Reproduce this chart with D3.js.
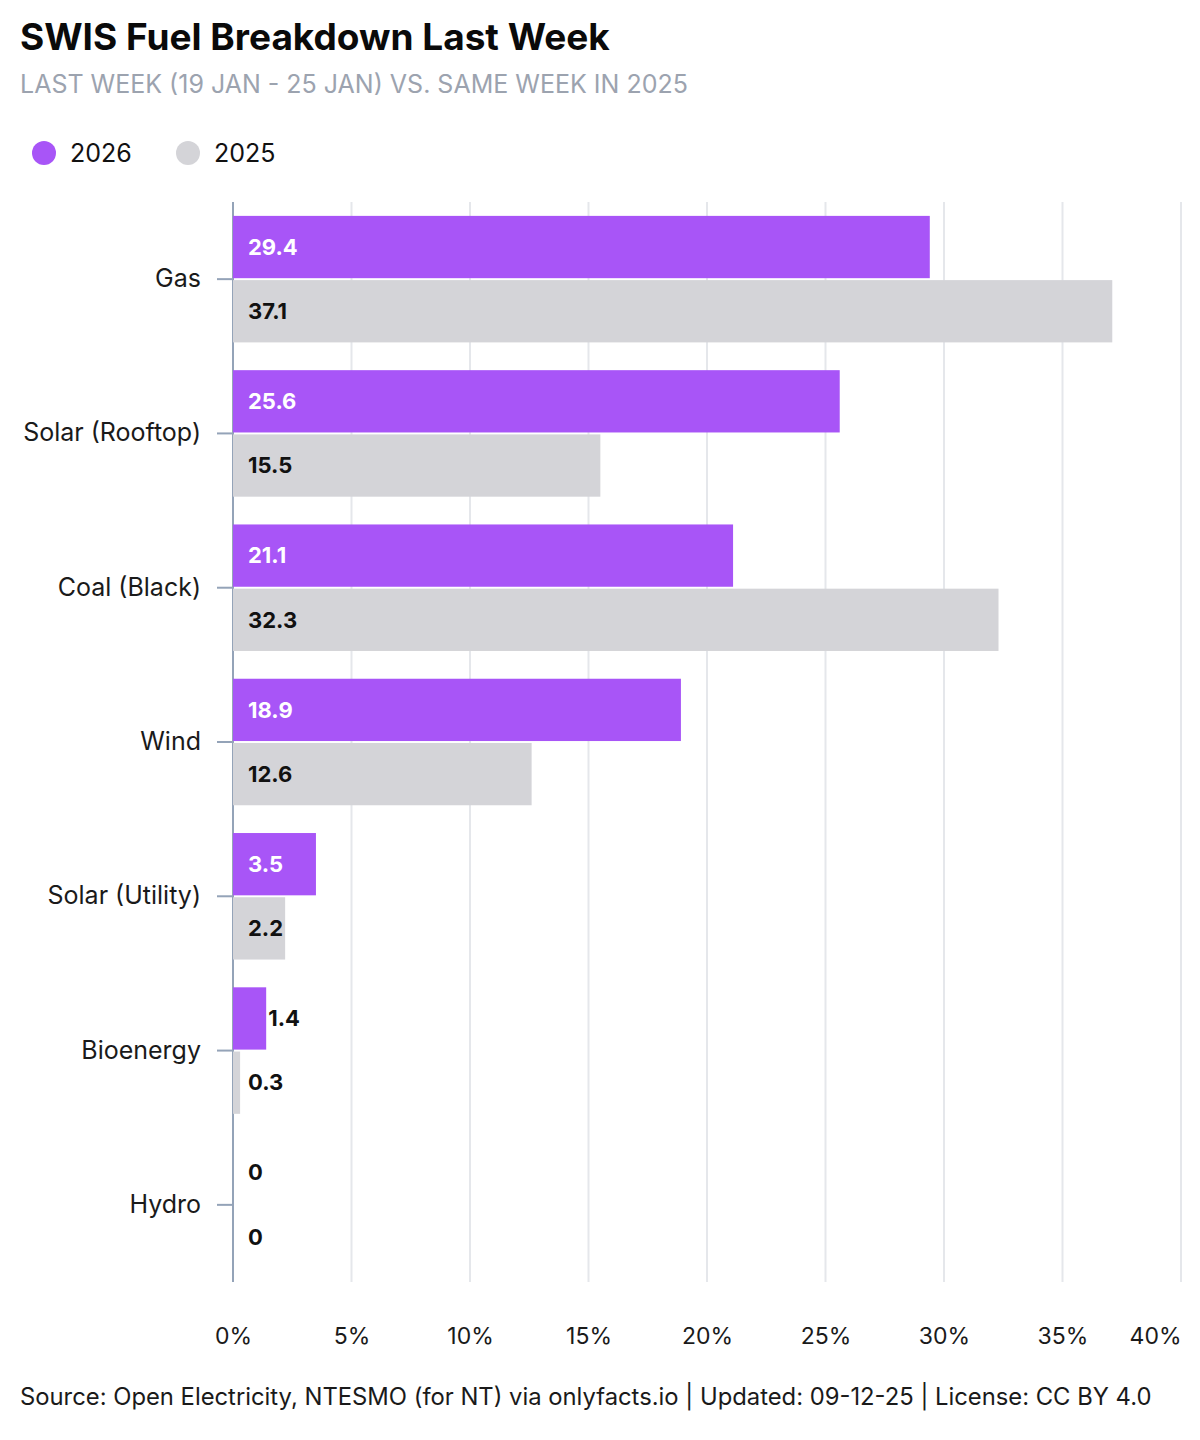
<!DOCTYPE html>
<html>
<head>
<meta charset="utf-8">
<script src="https://cdn.jsdelivr.net/npm/d3@7"></script>
<style>
  body { margin: 0; background: #fff; }
  svg { font-family: Inter, "Noto Sans", sans-serif; }
</style>
</head>
<body>
<script>
/* chart data */
var fuels = ['Gas', 'Solar (Rooftop)', 'Coal (Black)', 'Wind', 'Solar (Utility)', 'Bioenergy', 'Hydro'];
var years = ['2026', '2025'];
var values2026 = [29.4, 25.6, 21.1, 18.9, 3.5, 1.4, 0];
var values2025 = [37.1, 15.5, 32.3, 12.6, 2.2, 0.3, 0];
var xTicks = [0, 5, 10, 15, 20, 25, 30, 35, 40];

var colors = { '2026': '#a855f7', '2025': '#d4d4d8' };
var labelColors = { '2026': '#ffffff', '2025': '#111111' };

var width = 1200,
    height = 1440,
    plotLeft = 233,
    plotRight = 1181,
    plotTop = 202,
    plotBottom = 1282;

var svg = d3.select('body').append('svg')
    .attr('width', width)
    .attr('height', height);

/* title block */
svg.append('text').attr('x', 20).attr('y', 50)
    .attr('font-size', 37).attr('font-weight', 700).attr('fill', '#0a0a0a')
    .text('SWIS Fuel Breakdown Last Week');
svg.append('text').attr('x', 20).attr('y', 93)
    .attr('font-size', 25).attr('fill', '#9ca3af')
    .text('LAST WEEK (19 JAN - 25 JAN) VS. SAME WEEK IN 2025');

/* legend */
var legend = svg.selectAll('.legend').data(years).enter().append('g')
    .attr('class', 'legend')
    .attr('transform', (d, i) => 'translate(' + (44 + i * 144) + ',153)');
legend.append('circle').attr('r', 12).attr('fill', d => colors[d]);
legend.append('text').attr('x', 26).attr('y', 9)
    .attr('font-size', 25).attr('fill', '#111').text(d => d);

/* scales */
var x = d3.scaleLinear().domain([0, 40]).range([plotLeft, plotRight]);
var y = d3.scaleBand().domain(fuels).range([plotTop, plotBottom])
    .paddingInner(0.18).paddingOuter(0.09);
var ySub = d3.scaleBand().domain(years).range([0, y.bandwidth()]).paddingInner(0.03);

/* gridlines */
svg.append('g').selectAll('line').data(xTicks.slice(1)).enter().append('line')
    .attr('x1', d => x(d)).attr('x2', d => x(d))
    .attr('y1', plotTop).attr('y2', plotBottom)
    .attr('stroke', '#e5e7eb').attr('stroke-width', 2);

/* left axis */
var yAxis = svg.append('g')
    .attr('transform', 'translate(' + plotLeft + ',0)')
    .call(d3.axisLeft(y).tickSize(16).tickPadding(16));
yAxis.select('.domain').remove();
yAxis.selectAll('line').attr('stroke', '#94a3b8').attr('stroke-width', 2);
yAxis.selectAll('text').attr('font-size', 25).attr('fill', '#1a1a1a')
    .attr('font-family', 'Inter, sans-serif');
svg.append('line')
    .attr('x1', plotLeft).attr('x2', plotLeft).attr('y1', plotTop).attr('y2', plotBottom)
    .attr('stroke', '#94a3b8').attr('stroke-width', 2);

/* bottom axis */
var xAxis = svg.append('g')
    .attr('transform', 'translate(0,' + plotBottom + ')')
    .call(d3.axisBottom(x).tickValues(xTicks).tickFormat(d => d + '%').tickSize(0).tickPadding(46));
xAxis.select('.domain').remove();
xAxis.selectAll('text').attr('font-size', 23).attr('fill', '#1a1a1a')
    .attr('font-family', 'Inter, sans-serif');
xAxis.selectAll('text').filter(d => d === 40).attr('text-anchor', 'end');

/* bars */
var rows = fuels.map((f, i) => ({ fuel: f, vals: [
    { year: '2026', value: values2026[i] },
    { year: '2025', value: values2025[i] }
] }));

var groups = svg.selectAll('.group').data(rows).enter().append('g')
    .attr('class', 'group')
    .attr('transform', d => 'translate(0,' + y(d.fuel) + ')');

var cells = groups.selectAll('.cell').data(d => d.vals).enter().append('g')
    .attr('class', 'cell');

cells.append('rect')
    .attr('x', plotLeft)
    .attr('y', d => ySub(d.year))
    .attr('width', d => Math.max(0, x(d.value) - plotLeft))
    .attr('height', ySub.bandwidth())
    .attr('fill', d => colors[d.year]);

cells.append('text')
    .attr('y', d => ySub(d.year) + ySub.bandwidth() / 2)
    .attr('dy', '0.35em')
    .attr('font-size', 22)
    .attr('font-weight', 700)
    .text(d => d.value)
    .each(function(d) {
        var tw = this.getComputedTextLength();
        var barW = x(d.value) - plotLeft;
        var inside = 15 + tw <= barW;
        var tx = inside ? plotLeft + 15 : Math.max(plotLeft + 15, x(d.value) + 2);
        d3.select(this).attr('x', tx)
            .attr('fill', inside ? labelColors[d.year] : '#111111');
    });

/* footer */
svg.append('text').attr('x', 20).attr('y', 1405)
    .attr('font-size', 23.8).attr('fill', '#1a1a1a')
    .text('Source: Open Electricity, NTESMO (for NT) via onlyfacts.io | Updated: 09-12-25 | License: CC BY 4.0');
</script>
</body>
</html>
